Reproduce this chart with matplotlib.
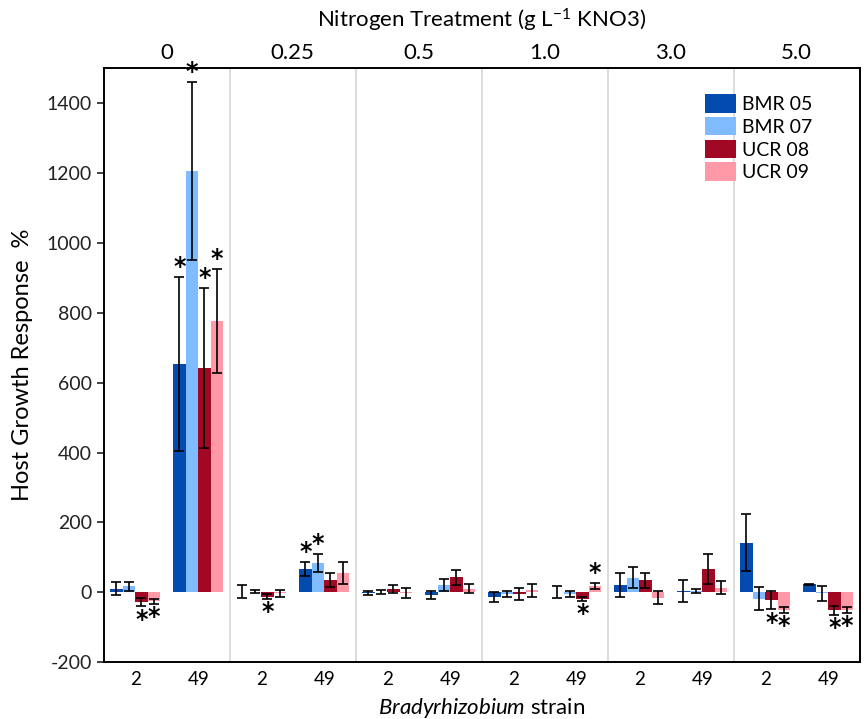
import matplotlib
matplotlib.use("Agg")
import matplotlib.pyplot as plt
import numpy as np
from matplotlib.patches import Patch

plt.rcParams['font.family'] = ['Lato', 'DejaVu Sans']
plt.rcParams['mathtext.fontset'] = 'custom'
plt.rcParams['mathtext.rm'] = 'Lato'
plt.rcParams['mathtext.it'] = 'Lato:italic'
plt.rcParams['axes.unicode_minus'] = False

treatments = ["0", "0.25", "0.5", "1.0", "3.0", "5.0"]
strains = ["2", "49"]
series = ["BMR 05", "BMR 07", "UCR 08", "UCR 09"]
colors = ["#034BAF", "#80BAFF", "#A00824", "#FF99A8"]

# values per category (treatment x strain), order: 0/2, 0/49, 0.25/2, 0.25/49, ...
bmr05 = [10, 654, 2, 68, -1, -8, -13, 0, 21, 4, 142, 23]
bmr07 = [17, 1206, 2, 84, 0, 21, -5, -5, 42, 4, -18, -3]
ucr08 = [-28, 641, -12, 35, 10, 43, -5, -18, 34, 67, -23, -51]
ucr09 = [-25, 777, -3, 55, -2, 10, 6, 19, -15, 13, -51, -51]

bmr05_err = [19, 250, 19, 20, 6, 12, 14, 17, 34, 31, 82, 2]
bmr07_err = [12, 254, 4, 25, 6, 17, 9, 8, 30, 6, 33, 21]
ucr08_err = [12, 229, 6, 21, 12, 21, 16, 6, 21, 43, 26, 13]
ucr09_err = [7, 148, 9, 32, 15, 13, 19, 9, 19, 19, 8, 8]

# significance markers: (category index, series index, direction)
sig_cat = [0, 0, 1, 1, 1, 1, 2, 3, 3, 7, 7, 10, 10, 11, 11]
sig_ser = [2, 3, 0, 1, 2, 3, 2, 0, 1, 2, 3, 2, 3, 2, 3]
sig_dir = ["down", "down", "up", "up", "up", "up", "down", "up", "up",
           "down", "up", "down", "down", "down", "down"]

vals = [bmr05, bmr07, ucr08, ucr09]
errs = [bmr05_err, bmr07_err, ucr08_err, ucr09_err]

fig = plt.figure(figsize=(8.64, 7.19), dpi=100)
ax = fig.add_axes([0.120, 0.079, 0.875, 0.826])

ncat = len(treatments) * len(strains)
x = np.arange(ncat)
w = 0.2
for j in range(4):
    xs = x + (j - 1.5) * w
    ax.bar(xs, vals[j], width=w, color=colors[j], edgecolor='none', zorder=2, label=series[j])
    ax.errorbar(xs, vals[j], yerr=errs[j], fmt='none', ecolor='black', elinewidth=1.2,
                capsize=3.5, capthick=1.2, zorder=3)

for c, s, d in zip(sig_cat, sig_ser, sig_dir):
    xp = c + (s - 1.5) * w
    v = vals[s][c]
    e = errs[s][c]
    if d == "up":
        ax.text(xp, v + e - 6, "*", ha='center', va='bottom', fontsize=17,
                fontweight='bold', family='DejaVu Sans', zorder=4)
    else:
        ax.text(xp, v - e - 38, "*", ha='center', va='center', fontsize=17,
                fontweight='bold', family='DejaVu Sans', zorder=4)

for k in range(1, len(treatments)):
    ax.axvline(2 * k - 0.5, color='#d9d9d9', lw=1.3, zorder=1)

ax.set_xlim(-0.5, ncat - 0.5)
ax.set_ylim(-200, 1500)
ax.set_yticks(np.arange(-200, 1401, 200))
ax.tick_params(axis='y', labelsize=14, length=5, width=1.2, colors='#222222')
ax.set_xticks(x)
ax.set_xticklabels(strains * len(treatments), fontsize=13.5)
ax.tick_params(axis='x', length=0, pad=6)
for sp in ax.spines.values():
    sp.set_linewidth(1.4)
    sp.set_color('black')

sec = ax.secondary_xaxis('top')
sec.set_xticks(np.arange(0.5, ncat, 2))
sec.set_xticklabels(treatments, fontsize=16)
sec.tick_params(length=0, pad=4)
sec.spines['top'].set_visible(False)

fig.text(0.5575, 0.972, "Nitrogen Treatment (g L$^{-1}$ KNO3)", ha='center', va='center', fontsize=16)
ax.set_xlabel(r"$\it{Bradyrhizobium}$ strain", fontsize=16, labelpad=6)
ax.set_ylabel("Host Growth Response  %", fontsize=17, labelpad=10)

handles = [Patch(facecolor=colors[j], edgecolor='none') for j in range(4)]
leg = ax.legend(handles, series, loc='upper left', bbox_to_anchor=(0.785, 0.97),
                frameon=False, fontsize=14, handlelength=1.6, handleheight=1.1,
                handletextpad=0.3, labelspacing=0.2, borderaxespad=0)

fig.savefig("out.png", dpi=100)
